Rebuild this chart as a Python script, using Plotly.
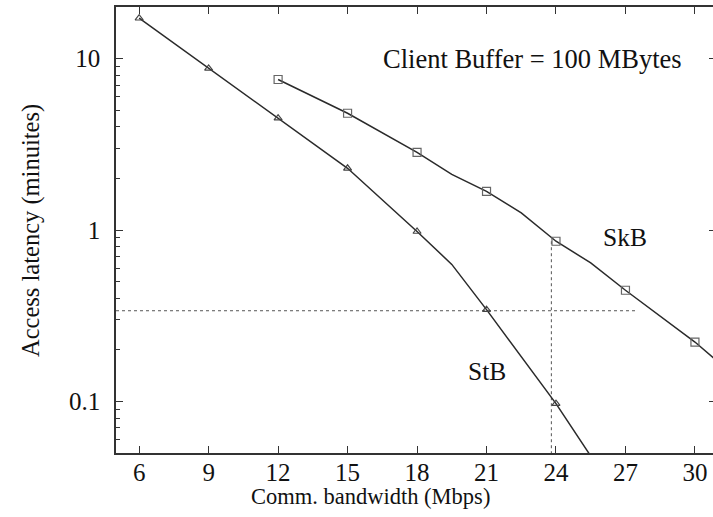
import plotly.graph_objects as go

# --- data ---
stb_bw = [6, 9, 12, 15, 18, 19.5, 21, 24, 25.5]
stb_lat = [17.2, 8.77, 4.49, 2.29, 0.98, 0.63, 0.343, 0.097, 0.048]
stb_mark_bw = [6, 9, 12, 15, 18, 21, 24]

skb_bw = [12, 15, 18, 19.5, 21, 22.5, 24, 25.5, 27, 30, 31]
skb_lat = [7.55, 4.80, 2.84, 2.11, 1.68, 1.26, 0.86, 0.643, 0.445, 0.222, 0.17]
skb_mark_bw = [12, 15, 18, 21, 24, 27, 30]

ref_bw = 23.8          # vertical dotted guide
ref_lat = 0.338        # horizontal dotted guide
ref_h_x = [5, 27.5]
ref_v_y = [0.86, 0.045]

x_ticks = [6, 9, 12, 15, 18, 21, 24, 27, 30]
y_ticks = [0.1, 1, 10]
y_ticktext = ["0.1", "1", "10"]
y_minor = [0.06, 0.07, 0.08, 0.09, 0.2, 0.3, 0.4, 0.5, 0.6, 0.7, 0.8, 0.9,
           2, 3, 4, 5, 6, 7, 8, 9]

FONT = "Liberation Serif, Times New Roman, serif"
LINE = "#2a2a2a"
AX = "#333333"

def pick(xs, ys, keep):
    return [y for x, y in zip(xs, ys) if x in keep]

fig = go.Figure()

# dotted guides
fig.add_trace(go.Scatter(x=ref_h_x, y=[ref_lat, ref_lat], mode="lines",
                         line=dict(color="#555", width=1, dash="dot"),
                         hoverinfo="skip", showlegend=False))
fig.add_trace(go.Scatter(x=[ref_bw, ref_bw], y=ref_v_y, mode="lines",
                         line=dict(color="#555", width=1, dash="dot"),
                         hoverinfo="skip", showlegend=False))

# curves
fig.add_trace(go.Scatter(x=stb_bw, y=stb_lat, mode="lines",
                         line=dict(color=LINE, width=1.5), showlegend=False))
fig.add_trace(go.Scatter(x=skb_bw, y=skb_lat, mode="lines",
                         line=dict(color=LINE, width=1.5), showlegend=False))

# markers
fig.add_trace(go.Scatter(x=stb_mark_bw, y=pick(stb_bw, stb_lat, stb_mark_bw),
                         mode="markers", yaxis="y2",
                         marker=dict(symbol="triangle-up-open", size=7,
                                     color="#444", line=dict(width=1.2)),
                         showlegend=False))
fig.add_trace(go.Scatter(x=skb_mark_bw, y=pick(skb_bw, skb_lat, skb_mark_bw),
                         mode="markers",
                         marker=dict(symbol="square-open", size=8,
                                     color="#666", line=dict(width=1.2)),
                         showlegend=False))

yr = [-1.30103, 1.30103]

fig.update_layout(
    width=713, height=517,
    margin=dict(l=116, r=0, t=7, b=64),
    paper_bgcolor="white", plot_bgcolor="white",
    font=dict(family=FONT, size=24, color="#111"),
    xaxis=dict(range=[5, 30.78], tickvals=x_ticks, ticks="inside", ticklen=7,
               tickwidth=1.3, tickcolor=AX, showline=True, linecolor=AX,
               linewidth=1.5, mirror="ticks", showgrid=False, zeroline=False,
               tickfont=dict(size=25), ticklabelstandoff=-4,
               automargin=False),
    yaxis=dict(type="log", range=yr, tickvals=y_ticks, ticktext=y_ticktext,
               ticks="inside", ticklen=7, tickwidth=1.3, tickcolor=AX,
               showline=True, linecolor=AX, linewidth=1.5, showgrid=False,
               zeroline=False, tickfont=dict(size=25), ticklabelstandoff=9,
               automargin=False,
               minor=dict(tickvals=y_minor, ticks="inside", ticklen=4,
                          tickcolor=AX, tickwidth=1.2, showgrid=False)),
    yaxis2=dict(type="log", range=yr, overlaying="y", side="right",
                tickvals=y_ticks, showticklabels=False, ticks="inside",
                ticklen=4, tickwidth=1.3, tickcolor=AX, showline=False,
                showgrid=False, zeroline=False, automargin=False),
    annotations=[
        dict(text="Client Buffer = 100 MBytes", x=23.0, y=1.0, xref="x",
             yref="y", showarrow=False, xanchor="center", yanchor="middle",
             font=dict(size=26.5)),
        dict(text="SkB", x=27.0, y=-0.045, xref="x", yref="y",
             showarrow=False, xanchor="center", yanchor="middle",
             font=dict(size=25.5)),
        dict(text="StB", x=21.0, y=-0.827, xref="x", yref="y",
             showarrow=False, xanchor="center", yanchor="middle",
             font=dict(size=25.5)),
        dict(text="Comm. bandwidth (Mbps)", x=0.427, y=-0.0985,
             xref="paper", yref="paper", showarrow=False, xanchor="center",
             yanchor="middle", font=dict(size=22.5)),
        dict(text="Access latency (minuites)", x=-0.1424, y=0.5,
             xref="paper", yref="paper", showarrow=False, xanchor="center",
             yanchor="middle", textangle=-90, font=dict(size=24.5)),
    ],
)

fig.write_html(
    "out.html",
    config={"displayModeBar": False},
    post_script="document.body.style.margin='0px';"
                "document.body.style.overflow='hidden';",
)
